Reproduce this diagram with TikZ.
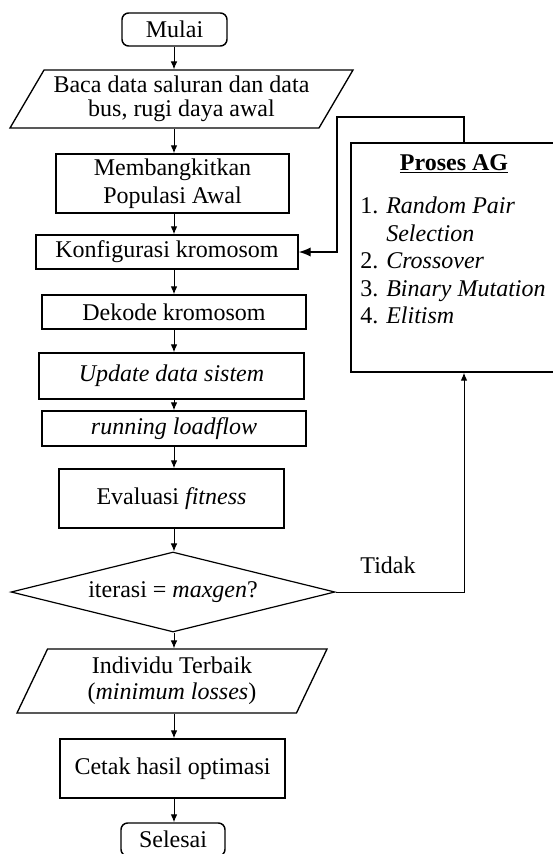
\documentclass[tikz,border=0pt]{standalone}
\usepackage{fontspec}
\setmainfont{Liberation Serif}
\usetikzlibrary{positioning, arrows.meta, shapes.geometric}

\tikzset{
  kotak/.style={draw, line width=1.1pt, align=center, inner sep=0pt, font=\fontsize{18}{21}\selectfont},
  terminal/.style={kotak, rounded corners=5pt},
  datain/.style={kotak, trapezium, trapezium stretches body, line width=1pt},
  keputusan/.style={kotak, diamond, aspect=4, line width=0.9pt},
  panah/.style={-{Latex[length=6pt,width=5pt]}, line width=0.75pt},
  panahbesar/.style={-{Latex[length=9pt,width=7pt]}, line width=1pt},
  teks/.style={inner sep=0pt, font=\fontsize{18}{21}\selectfont}
}

\begin{document}
\begin{tikzpicture}[x=0.75pt,y=0.75pt,yscale=-1]
    \useasboundingbox (0,0) rectangle (553,854);
    \clip (0,0) rectangle (553,854);
    \coordinate (sumbu) at (174,0);
    % alur utama
    \node[terminal, minimum width=78.75pt, minimum height=24.75pt] (mulai) at (174.5,29.5) {Mulai};
    \node[datain, trapezium left angle=53.4, trapezium right angle=126.6, minimum width=257.25pt, minimum height=43.5pt, font=\fontsize{18}{18}\selectfont] (baca) at (181.5,99) {Baca data saluran dan data\\bus, rugi daya awal};
    \node[kotak, minimum width=174.75pt, minimum height=44.25pt] (bangkit) at (172.5,183.5) {Membangkitkan\\Populasi Awal};
    \node[kotak, minimum width=196.5pt, minimum height=25.5pt] (konf) at (167,252) {Konfigurasi kromosom};
    \node[kotak, minimum width=198pt, minimum height=25.5pt] (dekode) at (174,312) {Dekode kromosom};
    \node[kotak, minimum width=198.75pt, minimum height=34.5pt] (update) at (171.5,376) {\textit{Update data sistem}};
    \node[kotak, minimum width=198pt, minimum height=26.25pt] (running) at (174,428.5) {\textit{running loadflow}};
    \node[kotak, minimum width=168.75pt, minimum height=44.25pt] (evaluasi) at (171.5,498.5) {Evaluasi \textit{fitness}};
    \node[keputusan, minimum width=243pt, minimum height=60pt] (iterasi) at (173,592) {iterasi = \textit{maxgen}?};
    \node[datain, trapezium left angle=57.4, trapezium right angle=122.6, minimum width=232.5pt, minimum height=48pt, font=\fontsize{18}{19.5}\selectfont] (individu) at (172,681) {Individu Terbaik\\(\textit{minimum losses})};
    \node[kotak, minimum width=168.75pt, minimum height=44.25pt] (cetak) at (172.5,768.5) {Cetak hasil optimasi};
    \node[terminal, minimum width=78pt, minimum height=24.75pt] (selesai) at (173,839.5) {Selesai};

    % proses AG
    \node[kotak, minimum width=169.5pt, minimum height=171.75pt] (ag) at (464,257.5) {};
    \node[teks, anchor=base] (agjudul) at (454,170) {\textbf{\underline{Proses AG}}};
    \node[teks, anchor=north west, align=left, font=\fontsize{18}{20.6}\selectfont] (aglist) at (360,197) {1. \textit{Random Pair}\\\hphantom{1. }\textit{Selection}\\2. \textit{Crossover}\\3. \textit{Binary Mutation}\\4. \textit{Elitism}};
    \node[teks] (tidak) at (388,565) {Tidak};
    \coordinate (belok) at (337,117);

    % panah
    \draw[panah] (sumbu |- mulai.south) -- (sumbu |- baca.north);
    \draw[panah] (sumbu |- baca.south) -- (sumbu |- bangkit.north);
    \draw[panah] (sumbu |- bangkit.south) -- (sumbu |- konf.north);
    \draw[panah] (sumbu |- konf.south) -- (sumbu |- dekode.north);
    \draw[panah] (sumbu |- dekode.south) -- (sumbu |- update.north);
    \draw[panah] (sumbu |- update.south) -- (sumbu |- running.north);
    \draw[panah] (sumbu |- running.south) -- (sumbu |- evaluasi.north);
    \draw[panah] (sumbu |- evaluasi.south) -- (sumbu |- iterasi.north);
    \draw[panah] (sumbu |- iterasi.south) -- (sumbu |- individu.north);
    \draw[panah] (sumbu |- individu.south) -- (sumbu |- cetak.north);
    \draw[panah] (sumbu |- cetak.south) -- (sumbu |- selesai.north);
    \draw[panah] (iterasi.east) -| (ag.south);
    \draw[panahbesar] (ag.north) |- (belok) |- (konf.east);
\end{tikzpicture}
\end{document}
